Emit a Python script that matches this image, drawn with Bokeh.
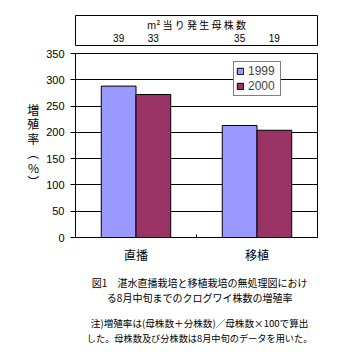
from bokeh.plotting import figure
from bokeh.layouts import column
from bokeh.models import (ColumnDataSource, FactorRange, Range1d, FixedTicker,
                          Legend, LegendItem, Label)
from bokeh.transform import dodge
from bokeh.embed import file_html
from bokeh.resources import INLINE

FONT = "Noto Sans CJK JP"
DIGITS = "Liberation Sans"

categories = ["直播", "移植"]
series_names = ["1999", "2000"]
values_1999 = [288, 213]
values_2000 = [272, 204]
colors = ["#9999FF", "#993366"]
y_ticks = [0, 50, 100, 150, 200, 250, 300, 350]
y_label = "増\n殖\n率\n︵\n%\n︶"
plants_title = "m² 当 り 発 生 母 株 数"
plants_1999 = ["39", "35"]
plants_2000 = ["33", "19"]
caption_lines = [
    "図1　湛水直播栽培と移植栽培の無処理図におけ",
    "る8月中旬までのクログワイ株数の増殖率",
    "注)増殖率は(母株数＋分株数)／母株数×100で算出",
    "した。母株数及び分株数は8月中旬のデータを用いた。",
]
caption_sizes = ["10px", "10px", "9.6px", "9.2px"]

W = 351
bw = 0.287


def label(fig, text, x, y, font=FONT, size="10px"):
    fig.add_layout(Label(x=x, y=y, text=text, text_font=font, text_font_size=size,
                         text_align="center", text_baseline="middle", text_color="black"))


# ---------- top box: plants per m2 ----------
top = figure(width=W, height=46, x_range=Range1d(0, len(categories)),
             y_range=Range1d(0, 1), output_backend="svg", toolbar_location=None,
             x_axis_location=None, y_axis_location=None,
             min_border_left=75, min_border_right=34, min_border_top=15, min_border_bottom=0)
top.grid.visible = False
top.outline_line_color = "black"
top.outline_line_width = 1
top.background_fill_color = "white"
top.border_fill_color = "white"
for i, (a, b) in enumerate(zip(plants_1999, plants_2000)):
    label(top, a, i + 0.5 - bw / 2, 0.26, DIGITS, "10px")
    label(top, b, i + 0.5 + bw / 2, 0.26, DIGITS, "10px")
label(top, plants_title, len(categories) / 2, 0.70, FONT, "10px")

# ---------- main chart ----------
src = ColumnDataSource(dict(cat=categories, v1999=values_1999, v2000=values_2000))
p = figure(width=W, height=219, x_range=FactorRange(*categories, range_padding=0),
           y_range=Range1d(0, 350), output_backend="svg", toolbar_location=None,
           min_border_left=74, min_border_right=33, min_border_top=7, min_border_bottom=27)
p.background_fill_color = "white"
p.border_fill_color = "white"
p.outline_line_color = "black"
p.outline_line_width = 1

r1 = p.vbar(x=dodge("cat", -bw / 2, range=p.x_range), top="v1999", width=bw, source=src,
            fill_color=colors[0], line_color="black", line_width=1)
r2 = p.vbar(x=dodge("cat", bw / 2, range=p.x_range), top="v2000", width=bw, source=src,
            fill_color=colors[1], line_color="black", line_width=1)

# inner tick at category boundary
p.segment(x0=dodge("cat", 0.5, range=p.x_range), x1=dodge("cat", 0.5, range=p.x_range),
          y0=0, y1=6, source=ColumnDataSource(dict(cat=categories[:1])),
          line_color="black", line_width=1)

p.xgrid.visible = False
p.ygrid.grid_line_color = "black"
p.ygrid.grid_line_width = 1
p.ygrid.ticker = FixedTicker(ticks=y_ticks)

p.yaxis.ticker = FixedTicker(ticks=y_ticks)
p.yaxis.major_tick_in = 0
p.yaxis.major_tick_out = 5
p.yaxis.minor_tick_line_color = None
p.yaxis.axis_line_color = "black"
p.yaxis.major_label_text_font = DIGITS
p.yaxis.major_label_text_font_size = "11px"
p.yaxis.major_label_text_color = "black"
p.yaxis.major_label_standoff = 6
p.yaxis.axis_label = y_label
p.yaxis.axis_label_orientation = "horizontal"
p.yaxis.axis_label_text_font = FONT
p.yaxis.axis_label_text_font_size = "12px"
p.yaxis.axis_label_text_font_style = "normal"
p.yaxis.axis_label_text_color = "black"
p.yaxis.axis_label_text_line_height = 0.85
p.yaxis.axis_label_text_align = "center"
p.yaxis.axis_label_standoff = 4

p.xaxis.major_tick_in = 0
p.xaxis.major_tick_out = 0
p.xaxis.axis_line_color = "black"
p.xaxis.major_label_text_font = FONT
p.xaxis.major_label_text_font_size = "12px"
p.xaxis.major_label_text_color = "black"
p.xaxis.major_label_standoff = 8

legend = Legend(items=[LegendItem(label=series_names[0], renderers=[r1]),
                       LegendItem(label=series_names[1], renderers=[r2])],
                location=(158, 141), orientation="vertical")
legend.label_text_font = DIGITS
legend.label_text_font_size = "12px"
legend.label_height = 12
legend.label_width = 30
legend.glyph_height = 8
legend.glyph_width = 8
legend.label_standoff = 4
legend.padding = 2
legend.spacing = 1
legend.margin = 0
legend.border_line_color = "black"
legend.border_line_width = 1
legend.background_fill_color = "white"
legend.background_fill_alpha = 1
p.add_layout(legend)

# ---------- caption ----------
cap = figure(width=W, height=87, x_range=Range1d(0, W), y_range=Range1d(0, 87),
             output_backend="svg", toolbar_location=None,
             x_axis_location=None, y_axis_location=None,
             min_border_left=0, min_border_right=0, min_border_top=0, min_border_bottom=0)
cap.grid.visible = False
cap.outline_line_color = None
cap.background_fill_color = "white"
cap.border_fill_color = "white"
for t, y, s in zip(caption_lines, [70, 55, 30, 15], caption_sizes):
    label(cap, t, 180, y, FONT, s)

layout = column(top, p, cap, spacing=0)
open("out.html", "w").write(file_html(layout, INLINE))
